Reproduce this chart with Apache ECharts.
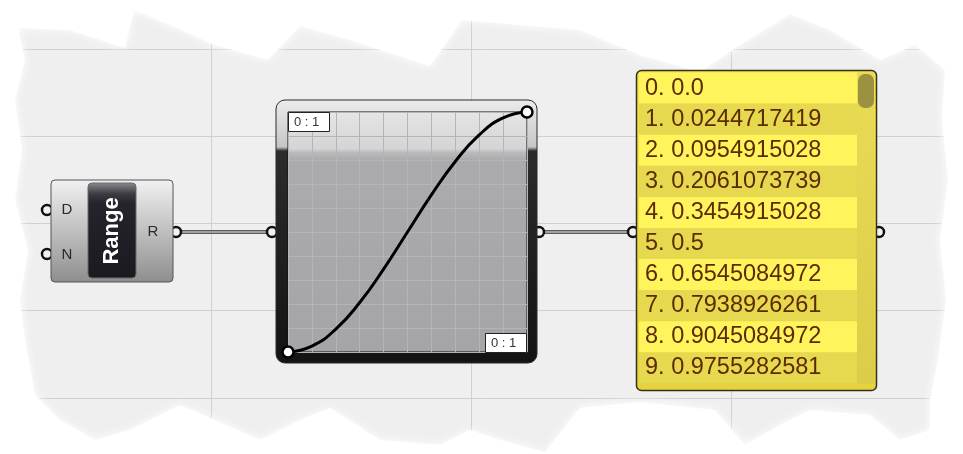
<!DOCTYPE html>
<html>
<head>
<meta charset="utf-8">
<title>Range - Graph Mapper - Panel</title>
<script src="https://cdn.jsdelivr.net/npm/echarts@6/dist/echarts.min.js"></script>
<style>
  html, body { margin: 0; padding: 0; background: #fff; }
  #main { width: 963px; height: 454px; }
</style>
</head>
<body>
<div id="main"></div>
<script>
// ---- data ----
// Range output (domain 0..1, 10 steps)
const rangeValues = [0, 0.1, 0.2, 0.3, 0.4, 0.5, 0.6, 0.7, 0.8, 0.9, 1];
// graph mapper output (values as shown in the panel)
const mappedValues = [0.0, 0.0244717419, 0.0954915028, 0.2061073739, 0.3454915028,
  0.5, 0.6545084972, 0.7938926261, 0.9045084972, 0.9755282581, 1.0];
// the panel only shows the first 10 rows
const panelValues = mappedValues.slice(0, 10);
const rangeInputs = ['D', 'N'];
const rangeOutput = 'R';
const componentName = 'Range';
const domainText = '0 : 1';
const rangeText = '0 : 1';

const panelLabels = panelValues.map((v) => (v === 0 ? '0.0' : String(v)));

// ---- layout ----
const W = 963, H = 454;
const canvasLinesY = [49, 136, 223, 310, 398];
const canvasLinesX = [211, 471, 731];
const wireY = 232;
const FONT = '"Liberation Sans", Arial, sans-serif';

// torn paper outline, clockwise
const tornEdge = [[18, 28], [70, 30], [125, 48], [134, 10], [170, 25], [215, 45], [268, 60],
  [300, 26], [350, 40], [430, 66], [462, 20], [520, 25], [580, 30], [640, 55], [700, 72],
  [740, 45], [790, 14], [830, 30], [880, 60], [915, 45], [945, 70], [942, 120], [948, 180],
  [940, 240], [946, 300], [938, 360], [930, 400], [930, 430], [900, 440], [870, 415],
  [810, 410], [780, 425], [745, 445], [715, 410], [640, 402], [580, 408], [545, 452],
  [500, 440], [470, 430], [440, 445], [380, 440], [330, 408], [300, 420], [260, 440],
  [215, 420], [180, 405], [130, 430], [95, 440], [60, 420], [35, 395], [25, 340],
  [20, 300], [28, 250], [15, 200], [22, 150], [15, 100], [25, 60]];

// outer box clockwise + outline counter-clockwise = white frame with a hole
const maskPoints = [[0, 0], [W, 0], [W, H], [0, H], [0, 0], tornEdge[0]]
  .concat(tornEdge.slice(1).reverse(), [tornEdge[0]]);

function grad(stops) {
  return new echarts.graphic.LinearGradient(0, 0, 0, 1,
    stops.map((s) => ({ offset: s[0], color: s[1] })));
}

function port(x, y) {
  return {
    type: 'circle', z: 3,
    shape: { cx: x, cy: y, r: 5 },
    style: { fill: '#f2f2f2', stroke: '#111', lineWidth: 2.5 }
  };
}

function wire(x1, x2, y) {
  return [
    { type: 'line', z: 3, shape: { x1: x1, y1: y, x2: x2, y2: y }, style: { stroke: '#5c5c5c', lineWidth: 4 } },
    { type: 'line', z: 3, shape: { x1: x1, y1: y, x2: x2, y2: y }, style: { stroke: '#a0a0a0', lineWidth: 2 } }
  ];
}

function label(x, y, text, font, fill, align, extra) {
  return Object.assign({
    type: 'text', z: 9, x: x, y: y,
    style: { text: text, font: font, fill: fill, align: align || 'center', verticalAlign: 'middle' }
  }, extra || {});
}

const elements = [];

// canvas grid
canvasLinesY.forEach((y) => {
  elements.push({ type: 'line', z: 1, shape: { x1: 0, y1: y + 0.5, x2: W, y2: y + 0.5 }, style: { stroke: '#d0d0d0', lineWidth: 1 } });
});
canvasLinesX.forEach((x) => {
  elements.push({ type: 'line', z: 1, shape: { x1: x + 0.5, y1: 0, x2: x + 0.5, y2: H }, style: { stroke: '#d0d0d0', lineWidth: 1 } });
});

// torn white border
elements.push({
  type: 'polygon', z: 2,
  shape: { points: maskPoints },
  style: { fill: '#ffffff', shadowBlur: 10, shadowColor: '#ffffff' }
});

// wires
elements.push(...wire(176, 272, wireY), ...wire(539, 633, wireY));

// ---- Range component ----
elements.push(port(47, 210), port(47, 254), port(176, wireY));
elements.push({
  type: 'rect', z: 4,
  shape: { x: 51, y: 180, width: 122, height: 102, r: 4 },
  style: { fill: grad([[0, '#f2f2f2'], [0.25, '#d8d8d8'], [1, '#8e8e8e']]), stroke: '#555', lineWidth: 1 }
});
elements.push({
  type: 'rect', z: 5,
  shape: { x: 88, y: 183, width: 48, height: 95, r: 4 },
  style: { fill: grad([[0, '#8c8c92'], [0.12, '#3c3a42'], [0.22, '#25232b'], [1, '#1b1a20']]), stroke: '#6a6a6a', lineWidth: 1 }
});
elements.push(label(112, 231, componentName, 'bold 22px ' + FONT, '#ffffff', 'center', { rotation: Math.PI / 2 }));
elements.push(label(67, 210, rangeInputs[0], '15px ' + FONT, '#2a2a2a'));
elements.push(label(67, 255, rangeInputs[1], '15px ' + FONT, '#2a2a2a'));
elements.push(label(153, 232, rangeOutput, '15px ' + FONT, '#2a2a2a'));

// ---- Graph mapper ----
elements.push(port(272, wireY), port(539, wireY));
elements.push({
  type: 'rect', z: 4,
  shape: { x: 276, y: 100, width: 261, height: 263, r: 9 },
  style: { fill: grad([[0, '#ececec'], [0.18, '#c6c6c6'], [0.195, '#2c2c2c'], [1, '#131313']]), stroke: '#2a2a2a', lineWidth: 1 }
});
elements.push({
  type: 'rect', z: 4,
  shape: { x: 288, y: 112, width: 239, height: 240 },
  style: { fill: grad([[0, '#e6e6e6'], [0.155, '#d4d4d4'], [0.17, '#bababc'], [0.2, '#ababaf'], [1, '#a5a5a9']]), stroke: '#111', lineWidth: 1 }
});
elements.push({
  type: 'rect', z: 8,
  shape: { x: 288.5, y: 112.5, width: 41, height: 19 },
  style: { fill: '#fff', stroke: '#222', lineWidth: 1 }
});
elements.push(label(294, 122, domainText, '13px ' + FONT, '#333', 'left'));
elements.push({
  type: 'rect', z: 8,
  shape: { x: 485.5, y: 333.5, width: 41, height: 19 },
  style: { fill: '#fff', stroke: '#222', lineWidth: 1 }
});
elements.push(label(491, 343, rangeText, '13px ' + FONT, '#333', 'left'));

// ---- Panel ----
elements.push(port(633, wireY), port(879, wireY));
elements.push({
  type: 'rect', z: 4,
  shape: { x: 636.5, y: 70.5, width: 240, height: 320, r: 5 },
  style: { fill: grad([[0, '#f3e34c'], [1, '#e4d23e']]), stroke: '#33301c', lineWidth: 1.5 }
});
elements.push({
  type: 'rect', z: 4,
  shape: { x: 857, y: 72.5, width: 17, height: 311 },
  style: { fill: grad([[0, '#e9dc55'], [1, '#dccc48']]) }
});
elements.push({
  type: 'rect', z: 8,
  shape: { x: 858, y: 74, width: 16, height: 34, r: 7 },
  style: { fill: '#9b9140' }
});

const option = {
  backgroundColor: '#efefef',
  animation: false,
  grid: [
    // graph mapper plot
    { left: 288, top: 112, width: 239, height: 240 },
    // panel rows
    { left: 639, top: 72.5, width: 218, height: 311 }
  ],
  xAxis: [
    {
      gridIndex: 0, type: 'value', min: 0, max: 1, interval: 0.1, z: 5,
      axisLine: { show: false }, axisTick: { show: false }, axisLabel: { show: false },
      splitLine: { show: true, lineStyle: { color: '#b5b5b9', width: 1 } }
    },
    { gridIndex: 1, type: 'value', min: 0, max: 1, show: false }
  ],
  yAxis: [
    {
      gridIndex: 0, type: 'value', min: 0, max: 1, interval: 0.1, z: 5,
      axisLine: { show: false }, axisTick: { show: false }, axisLabel: { show: false },
      splitLine: { show: true, lineStyle: { color: '#b5b5b9', width: 1 } }
    },
    {
      gridIndex: 1, type: 'category', inverse: true, data: panelLabels, z: 5,
      axisLine: { show: false }, axisTick: { show: false }, splitLine: { show: false },
      splitArea: { show: true, interval: 0, areaStyle: { color: ['#fff45c', '#e6d84f'] } },
      axisLabel: {
        inside: true, interval: 0, margin: 6,
        formatter: (v, i) => i + '. ' + v,
        color: '#5c2b04', fontSize: 23.5, fontFamily: 'Liberation Sans'
      }
    }
  ],
  series: [
    {
      // mapped curve
      type: 'line', xAxisIndex: 0, yAxisIndex: 0, z: 6,
      data: rangeValues.map((x, i) => [x, mappedValues[i]]),
      smooth: 0.5, symbol: 'none',
      lineStyle: { color: '#000', width: 3 }
    },
    {
      // curve end grips
      type: 'scatter', xAxisIndex: 0, yAxisIndex: 0, z: 7, clip: false,
      data: [
        [rangeValues[0], mappedValues[0]],
        [rangeValues[rangeValues.length - 1], mappedValues[mappedValues.length - 1]]
      ],
      symbolSize: 11,
      itemStyle: { color: '#fff', borderColor: '#000', borderWidth: 2.5, opacity: 1 }
    }
  ],
  graphic: { elements: elements }
};

const myChart = echarts.init(document.getElementById('main'));
myChart.setOption(option);
</script>
</body>
</html>
